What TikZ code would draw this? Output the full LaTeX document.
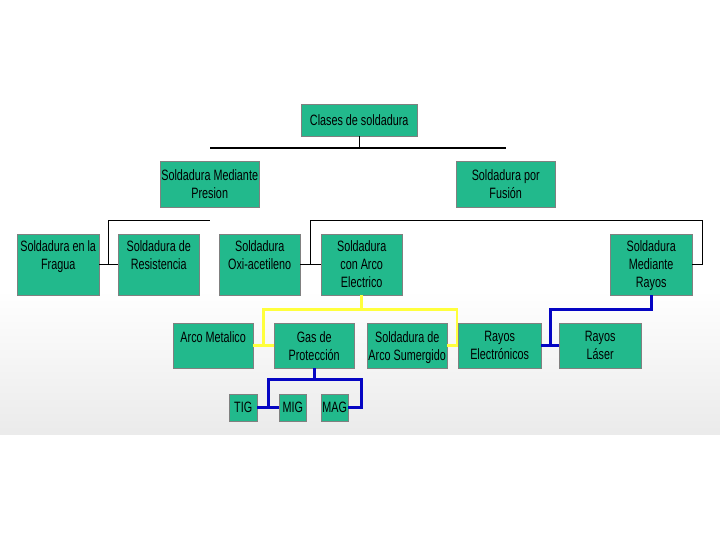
\documentclass[tikz,border=0pt]{standalone}
\usepackage{fontspec}
\setmainfont{Liberation Sans}[FakeStretch=0.72]
\usepackage{xcolor}
\usetikzlibrary{calc}

\definecolor{verde}{RGB}{34,185,140}
\definecolor{azul}{RGB}{5,5,195}
\definecolor{amarillo}{RGB}{255,255,60}
\newcommand{\caja}[4][6pt]{\parbox[c][#3][t]{#2}{\centering\vskip#1\relax #4\par}}

\begin{document}
\begin{tikzpicture}[x=1pt, y=-1pt,
  box/.style={draw=gray, fill=verde, inner sep=0pt, anchor=north west,
    font=\fontsize{15}{18}\selectfont},
  negro/.style={draw=black, line width=0.8pt},
  lineaam/.style={draw=amarillo, line width=2.6pt},
  lineaaz/.style={draw=azul, line width=3.2pt}]
  \useasboundingbox (0,0) rectangle (720,540);
  \shade[top color=white, bottom color=black!8] (0,290) rectangle (720,434);

  % niveles superiores
  \node[box, minimum width=116pt, minimum height=32pt] (clases) at (301,104) {Clases de soldadura};
  \node[box] (presion) at (160,161) {\caja[8pt]{99pt}{46pt}{Soldadura Mediante\\Presion}};
  \node[box] (fusion) at (456,161) {\caja[8pt]{99pt}{46pt}{Soldadura por\\Fusión}};

  \node[box] (fragua) at (17,234) {\caja{82pt}{61pt}{Soldadura en la\\Fragua}};
  \node[box] (resist) at (118,234) {\caja{81pt}{61pt}{Soldadura de\\Resistencia}};
  \node[box] (oxi) at (219,234) {\caja{81pt}{61pt}{Soldadura\\Oxi-acetileno}};
  \node[box] (arco) at (321,234) {\caja{81pt}{61pt}{Soldadura\\con Arco\\Electrico}};
  \node[box] (rayos) at (610,234) {\caja{82pt}{61pt}{Soldadura\\Mediante\\Rayos}};

  \node[box] (metal) at (173,323) {\caja[8pt]{80pt}{45pt}{Arco Metalico}};
  \node[box] (gas) at (274,323) {\caja[8pt]{80pt}{45pt}{Gas de\\Protección}};
  \node[box] (sumerg) at (367,323) {\caja[8pt]{80pt}{45pt}{Soldadura de\\Arco Sumergido}};
  \node[box] (electr) at (458,323) {\caja[8pt]{83pt}{45pt}{Rayos\\Electrónicos}};
  \node[box] (laser) at (559,323) {\caja[8pt]{82pt}{45pt}{Rayos\\Láser}};

  \node[box, minimum width=28pt, minimum height=27pt] (tig) at (229,394) {TIG};
  \node[box, minimum width=27pt, minimum height=27pt] (mig) at (279,394) {MIG};
  \node[box, minimum width=27pt, minimum height=27pt] (mag) at (321,394) {MAG};

  % lineas negras
  \coordinate (hizq) at (210,148);
  \coordinate (hder) at (506,148);
  \draw[negro, line width=1.8pt] (hizq) -- (hder);
  \draw[negro] (clases.south) -- (clases.south |- hizq);
  \coordinate (bizq) at (210,220);
  \coordinate (bder) at (702,220);
  \draw[negro] (fragua.east) -- (resist.west);
  \draw[negro] ($(fragua.east)!.5!(resist.west)$) |- (bizq);
  \draw[negro] (oxi.east) -- (arco.west);
  \draw[negro] ($(oxi.east)!.5!(arco.west)$) |- (bder) |- (rayos.east);

  % arco electrico
  \coordinate (ya) at ($(arco.south)+(0,14)$);
  \draw[lineaam] (arco.south) -- (ya);
  \draw[lineaam] ($(metal.east)!.5!(gas.west)$) |- (ya) -| ($(electr.west)+(-1,0)$);
  \draw[lineaam] (metal.east) -- (gas.west);
  \draw[lineaam] (sumerg.east) -- (electr.west);

  % rayos
  \coordinate (za) at ($(rayos.south)+(0,14)$);
  \draw[lineaaz] (rayos.south) -- (za) -| ($(electr.east)!.5!(laser.west)$);
  \draw[lineaaz] (electr.east) -- (laser.west);

  % gas de proteccion
  \coordinate (gb) at ($(gas.south)+(0,11)$);
  \coordinate (magr) at ($(mag.east)+(13,0)$);
  \draw[lineaaz] (gas.south) -- (gb);
  \draw[lineaaz] ($(tig.east)!.5!(mig.west)$) |- (gb) -| (magr) -- (mag.east);
  \draw[lineaaz] (tig.east) -- (mig.west);
\end{tikzpicture}
\end{document}
